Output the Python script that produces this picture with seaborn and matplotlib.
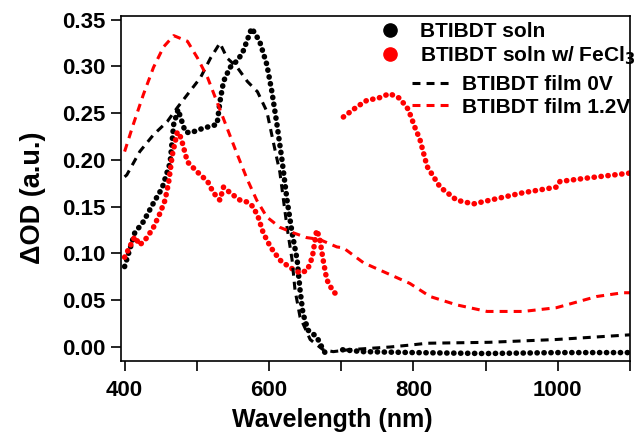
import numpy as np
import pandas as pd
import matplotlib
matplotlib.use("Agg")
import matplotlib.pyplot as plt
from matplotlib.lines import Line2D
from matplotlib.ticker import MultipleLocator, FormatStrFormatter
import seaborn as sns

# --- data (wavelength nm, delta OD) ---
soln_x1 = [400, 414, 426, 440, 452, 463, 468, 474, 484, 491, 509, 528, 532, 537, 546, 557,
           564, 576, 587, 597, 604, 611, 618, 625, 632, 639, 643, 647, 654, 666, 675, 682]
soln_y1 = [0.086, 0.122, 0.134, 0.154, 0.170, 0.197, 0.238, 0.254, 0.230, 0.229, 0.234, 0.238,
           0.262, 0.284, 0.299, 0.307, 0.316, 0.341, 0.327, 0.302, 0.273, 0.238, 0.200, 0.157,
           0.122, 0.093, 0.061, 0.036, 0.018, 0.011, -0.003, -0.011]
soln_x2 = [702, 730, 800, 900, 1000, 1100]
soln_y2 = [-0.003, -0.005, -0.006, -0.007, -0.006, -0.006]

fecl_x1 = [400, 407, 414, 421, 431, 440, 449, 456, 461, 466, 473, 478, 487, 501, 515, 523,
           532, 537, 546, 560, 570, 578, 585, 592, 602, 615, 629, 643, 653, 660, 666, 670,
           675, 680, 689, 698]
fecl_y1 = [0.096, 0.107, 0.118, 0.109, 0.117, 0.128, 0.143, 0.157, 0.176, 0.205, 0.230, 0.224,
           0.198, 0.187, 0.177, 0.165, 0.157, 0.171, 0.165, 0.157, 0.155, 0.150, 0.139, 0.122,
           0.107, 0.093, 0.085, 0.079, 0.082, 0.096, 0.125, 0.117, 0.093, 0.072, 0.059, 0.054]
fecl_x2 = [703, 722, 736, 751, 767, 781, 793, 802, 809, 819, 837, 860, 883, 906, 952, 998,
           1003, 1044, 1100]
fecl_y2 = [0.246, 0.257, 0.264, 0.266, 0.271, 0.266, 0.254, 0.235, 0.222, 0.193, 0.171, 0.157,
           0.153, 0.157, 0.165, 0.171, 0.177, 0.181, 0.186]

film0_x = [400, 403, 421, 440, 459, 473, 487, 505, 519, 532, 542, 556, 570, 584, 597, 606,
           615, 625, 632, 636, 643, 657, 675, 689, 710, 768, 795, 819, 905, 998, 1100]
film0_y = [0.182, 0.184, 0.209, 0.227, 0.241, 0.256, 0.270, 0.288, 0.309, 0.325, 0.309, 0.299,
           0.284, 0.273, 0.252, 0.219, 0.187, 0.128, 0.093, 0.061, 0.032, 0.008, -0.003, -0.005,
           -0.003, 0.000, 0.002, 0.004, 0.005, 0.008, 0.013]

film12_x = [400, 412, 426, 440, 454, 468, 487, 501, 515, 528, 542, 556, 570, 583, 597, 615,
            634, 652, 670, 694, 703, 731, 763, 795, 823, 860, 902, 952, 998, 1026, 1054, 1090, 1100]
film12_y = [0.209, 0.238, 0.270, 0.299, 0.321, 0.333, 0.327, 0.309, 0.288, 0.262, 0.234, 0.206,
            0.179, 0.157, 0.139, 0.128, 0.122, 0.117, 0.115, 0.107, 0.106, 0.090, 0.079, 0.068,
            0.054, 0.045, 0.038, 0.038, 0.042, 0.048, 0.054, 0.058, 0.058]

labels = ["BTIBDT soln", "BTIBDT soln w/ FeCl$_\\mathbf{3}$", "BTIBDT film 0V", "BTIBDT film 1.2V"]

# soln traces have a gap near 700 nm -> separate segments as units
soln = pd.DataFrame({"wl": soln_x1 + soln_x2, "od": soln_y1 + soln_y2,
                     "seg": [0] * len(soln_x1) + [1] * len(soln_x2)})
fecl = pd.DataFrame({"wl": fecl_x1 + fecl_x2, "od": fecl_y1 + fecl_y2,
                     "seg": [0] * len(fecl_x1) + [1] * len(fecl_x2)})

sns.set_style("ticks")
plt.rcParams['font.family'] = ['Liberation Sans', 'DejaVu Sans']
plt.rcParams['font.weight'] = 'bold'
plt.rcParams['mathtext.default'] = 'bf'
for key in ['text.color', 'axes.labelcolor', 'xtick.color', 'ytick.color', 'axes.edgecolor']:
    plt.rcParams[key] = 'black'

fig = plt.figure(figsize=(6.37, 4.33), dpi=100)
ax = fig.add_axes([121 / 637, 1 - 361 / 433, 509 / 637, 345 / 433])

DOTS = (0, (0.05, 1.2))
DASH = (0, (2.6, 2.0))

sns.lineplot(data=soln, x="wl", y="od", units="seg", estimator=None, color="black",
             ax=ax, lw=4.0, linestyle=DOTS, dash_capstyle='round')
sns.lineplot(data=fecl, x="wl", y="od", units="seg", estimator=None, color="red",
             ax=ax, lw=4.0, linestyle=DOTS, dash_capstyle='round')
sns.lineplot(x=film0_x, y=film0_y, color="black", lw=2.2, linestyle=DASH, ax=ax,
             estimator=None, sort=False)
sns.lineplot(x=film12_x, y=film12_y, color="red", lw=2.2, linestyle=DASH, ax=ax,
             estimator=None, sort=False)

ax.set_xlim(395, 1100)
ax.set_ylim(-0.015, 0.354)
ax.xaxis.set_major_locator(MultipleLocator(200))
ax.xaxis.set_minor_locator(MultipleLocator(100))
ax.yaxis.set_major_locator(MultipleLocator(0.05))
ax.yaxis.set_major_formatter(FormatStrFormatter('%.2f'))
ax.tick_params(axis='both', which='both', direction='out', length=7, width=1.2,
               labelsize=16, color='black', labelcolor='black')
ax.tick_params(axis='x', pad=7)
ax.tick_params(axis='y', pad=4)
for lab in ax.get_xticklabels() + ax.get_yticklabels():
    lab.set_fontweight('bold')
for sp in ax.spines.values():
    sp.set_visible(True)
    sp.set_linewidth(1.2)
    sp.set_color('black')

ax.set_xlabel("Wavelength (nm)", fontsize=18, fontweight='bold')
ax.set_ylabel("\u0394OD (a.u.)", fontsize=19.5, fontweight='bold')
ax.xaxis.set_label_coords(0.416, -0.135)
ax.yaxis.set_label_coords(-0.148, 0.472)

# legend: dot entries and dashed entries are indented differently
h1 = [Line2D([], [], ls='none', marker='o', ms=9.5, color='black'),
      Line2D([], [], ls='none', marker='o', ms=9.5, color='red')]
h2 = [Line2D([], [], color='black', lw=2.2, linestyle=DASH),
      Line2D([], [], color='red', lw=2.2, linestyle=DASH)]
leg_font = dict(size=15, weight='bold')
leg1 = ax.legend(h1, labels[:2], loc='upper left', bbox_to_anchor=(0.508, 0.983),
                 frameon=False, prop=leg_font, handlelength=1.0, handletextpad=0.94,
                 labelspacing=0.18, borderpad=0, borderaxespad=0)
ax.add_artist(leg1)
ax.legend(h2, labels[2:], loc='upper left', bbox_to_anchor=(0.571, 0.829),
          frameon=False, prop=leg_font, handlelength=1.78, handletextpad=0.62,
          labelspacing=0.18, borderpad=0, borderaxespad=0)

fig.savefig("out.png", dpi=100)
